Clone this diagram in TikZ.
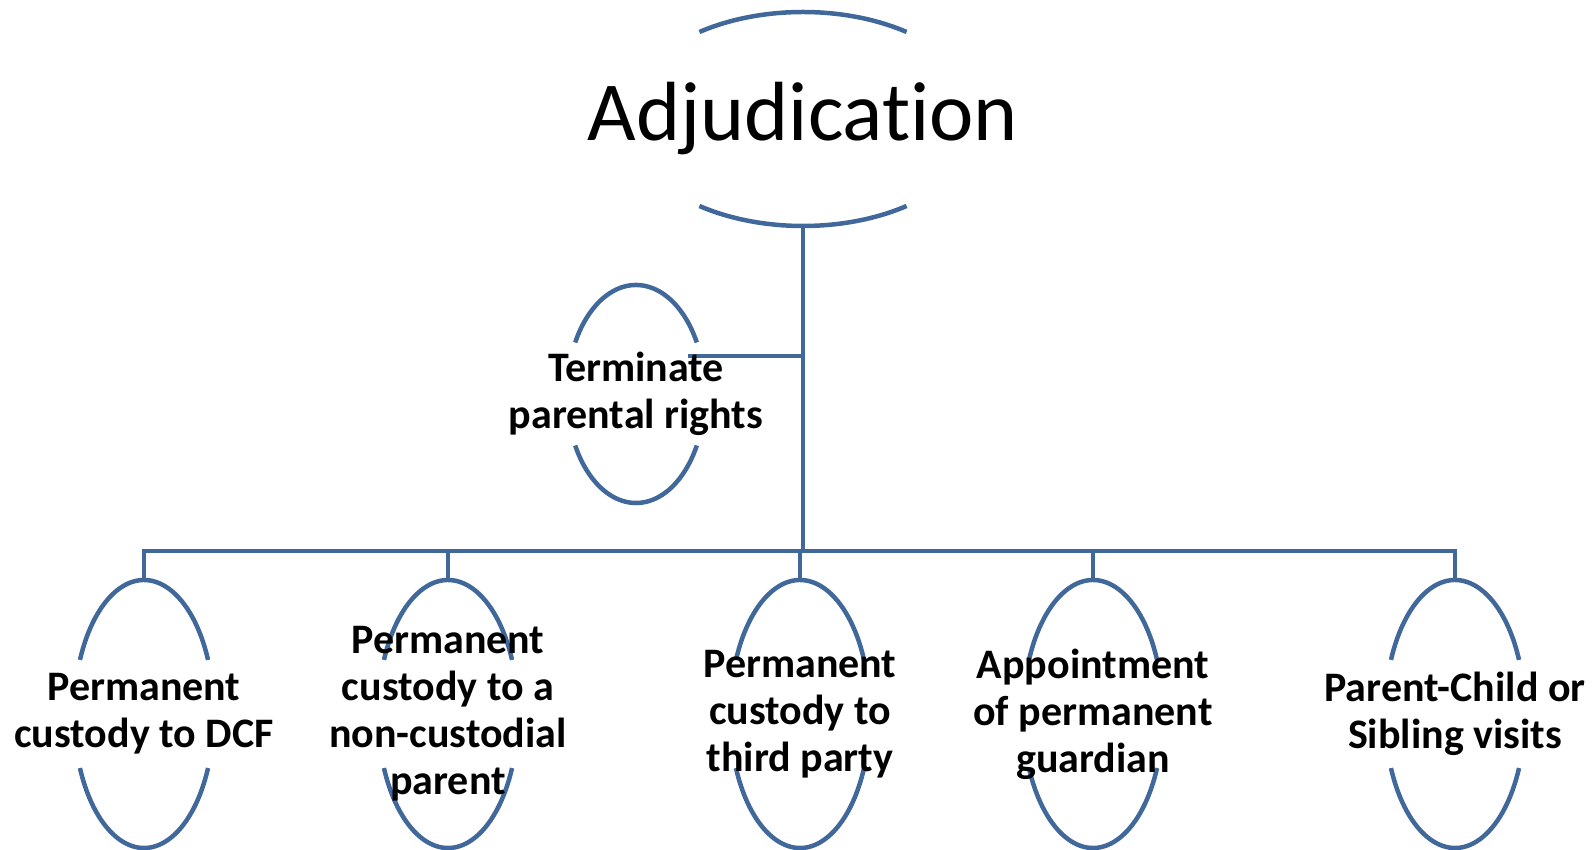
\documentclass[tikz,border=0pt]{standalone}
\usepackage{fontspec}
\setmainfont{Carlito}[Ligatures=NoCommon]
\usetikzlibrary{backgrounds}
\definecolor{lnblue}{RGB}{65,104,154}
\newcommand\gapellipse[4]{%
  \draw[ln] ([shift={(#4:#2pt and #3pt)}]#1.center) arc[start angle=#4, end angle=180-#4, x radius=#2pt, y radius=#3pt];
  \draw[ln] ([shift={(180+#4:#2pt and #3pt)}]#1.center) arc[start angle=180+#4, end angle=360-#4, x radius=#2pt, y radius=#3pt];
}
\begin{document}
\begin{tikzpicture}[x=1pt,y=1pt,
  ln/.style={draw=lnblue, line width=4.5pt},
  blob/.style={rectangle, draw=none, inner sep=0pt, outer sep=0pt, align=center,
    font=\fontsize{42}{47}\selectfont\bfseries},
  bigblob/.style={blob, font=\fontsize{84}{100}\selectfont},
  leaf/.style={blob, minimum width=140pt, minimum height=268pt}
]
\useasboundingbox (0,0) rectangle (1595,850);
\node[bigblob, minimum width=356pt, minimum height=214pt] (adj) at (803,731) {Adjudication};
\node[blob, minimum width=138pt, minimum height=218pt] (term) at (636,456) {Terminate\\parental rights};
\node[leaf] (p1) at (144,136) {Permanent\\custody to DCF};
\node[leaf] (p2) at (448,136) {Permanent\\custody to a\\non-custodial\\parent};
\node[leaf] (p3) at (800,136) {Permanent\\custody to\\third party};
\node[leaf] (p4) at (1093,136) {Appointment\\of permanent\\guardian};
\node[leaf] (p5) at (1455,136) {Parent-Child or\\Sibling visits};
\coordinate (j1) at (803,494);
\coordinate (tend) at (688,494);
\coordinate (bar) at (803,299);
\begin{pgfonlayer}{background}
\gapellipse{adj}{178}{107}{54.4}
\gapellipse{term}{69}{109}{28.2}
\foreach \n in {p1,p2,p3,p4,p5}{\gapellipse{\n}{70}{134}{23.8}}
\draw[ln] (adj.south) -- (bar);
\draw[ln] (j1) -- (tend);
\draw[ln, line join=miter] ([yshift=1pt]p1.north) -- (p1.north |- bar) -- (p5.north |- bar) -- ([yshift=1pt]p5.north);
\foreach \n in {p2,p3,p4}{\draw[ln] ([yshift=1pt]\n.north) -- (\n.north |- bar);}
\end{pgfonlayer}
\end{tikzpicture}
\end{document}
